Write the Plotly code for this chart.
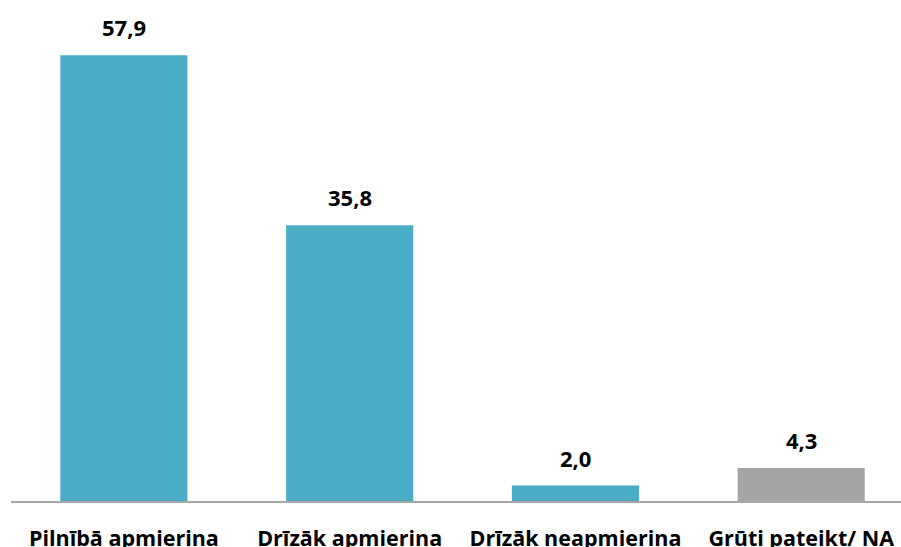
import plotly.graph_objects as go

categories = ["Pilnībā apmierina", "Drīzāk apmierina", "Drīzāk neapmierina", "Grūti pateikt/ NA"]
values = [57.9, 35.8, 2.0, 4.3]
colors = ["#4BACC6", "#4BACC6", "#4BACC6", "#A5A5A5"]

FONT = "Open Sans"

fig = go.Figure()
fig.add_trace(go.Bar(
    x=categories, y=values, marker=dict(color=colors, line=dict(width=0)),
    width=0.563, hoverinfo="skip",
))

for c, v in zip(categories, values):
    fig.add_annotation(
        x=c, y=v, xref="x", yref="y", text=f"<b>{v:.1f}</b>".replace(".", ","),
        showarrow=False, yanchor="bottom", yshift=11,
        font=dict(family=FONT, size=22, color="#000000"),
    )

fig.update_layout(
    width=901, height=547,
    margin=dict(l=11, r=0, t=0, b=46, autoexpand=False),
    paper_bgcolor="white", plot_bgcolor="white",
    showlegend=False,
    xaxis=dict(
        type="category", range=[-0.5, 3.442], automargin=False,
        showline=True, linecolor="#A6A6A6", linewidth=1.5,
        showgrid=False, ticks="", ticklabelstandoff=17,
        tickfont=dict(family=FONT, size=21.5, color="#000000", weight="bold"),
    ),
    yaxis=dict(range=[0, 65.06], visible=False, showgrid=False, zeroline=False, automargin=False),
)

fig.write_html("out.html", config={"displayModeBar": False},
               post_script="document.body.style.margin='0';")
